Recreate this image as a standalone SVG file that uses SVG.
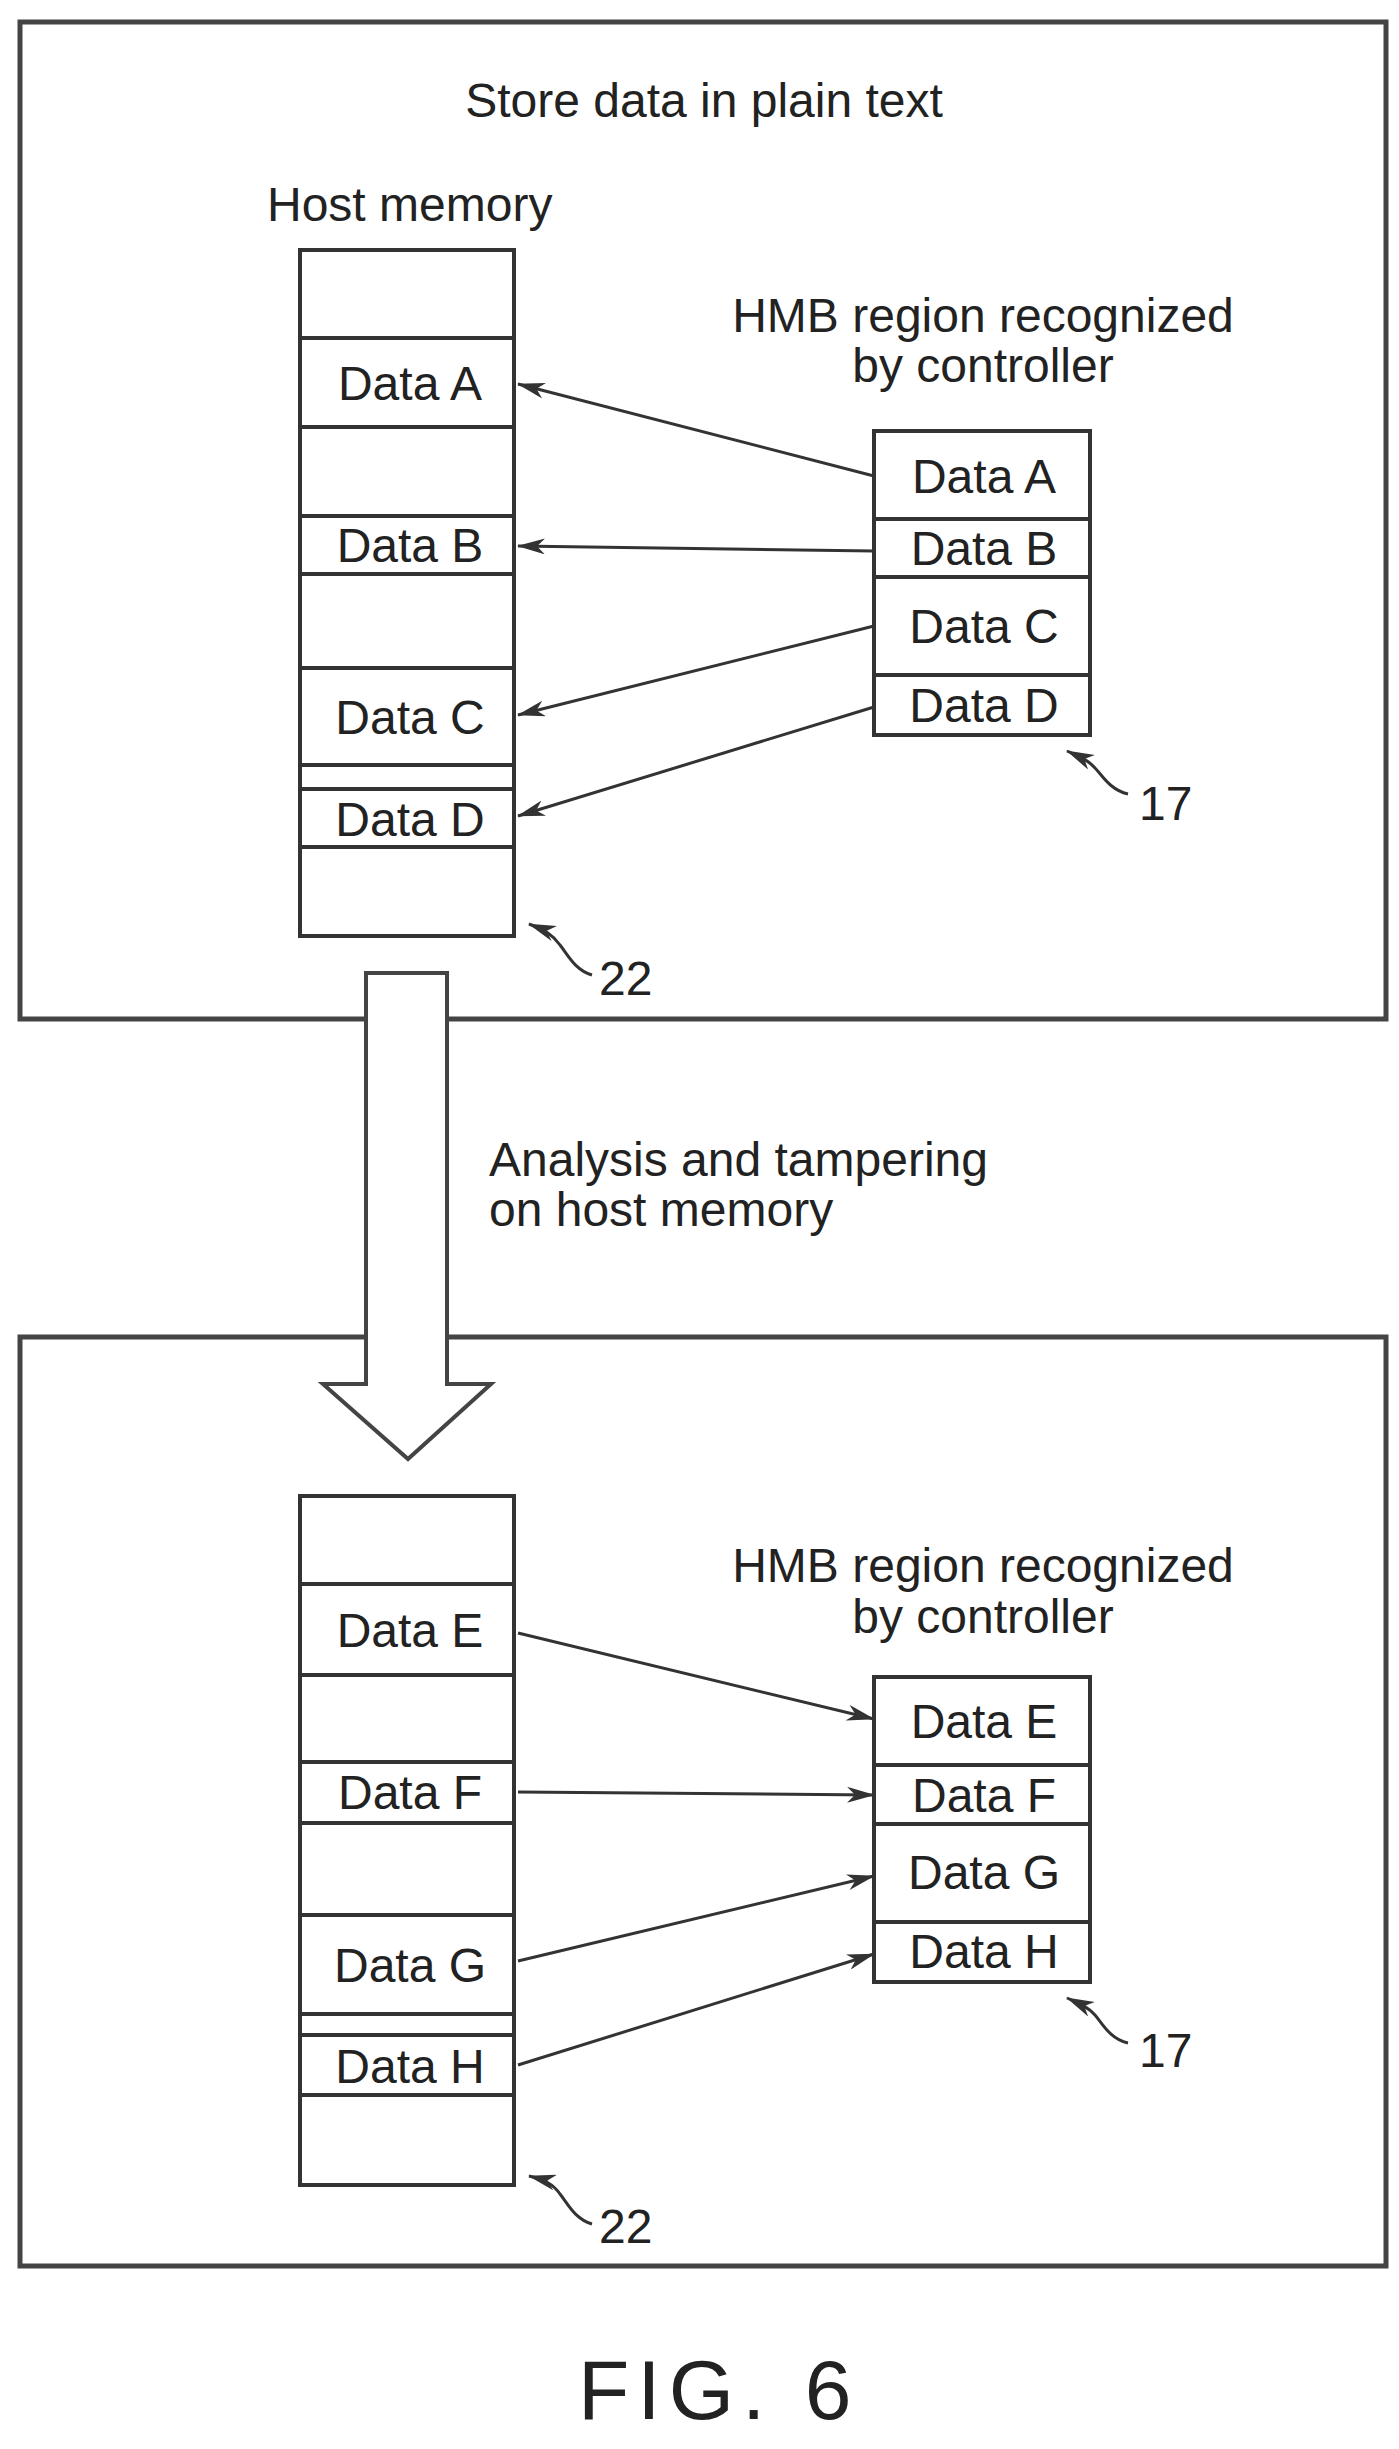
<svg xmlns="http://www.w3.org/2000/svg" width="1399" height="2449" viewBox="0 0 1399 2449">
<style>
text{font-family:"Liberation Sans",Arial,sans-serif;fill:#222;font-size:48px}
.c{text-anchor:middle}
.box{fill:#fff;stroke:#333;stroke-width:4}
.frame{fill:none;stroke:#444;stroke-width:5}
.ln{stroke:#333;stroke-width:3;fill:none}
</style>
<defs>
<marker id="ah" viewBox="0 0 28 16" refX="27" refY="8" markerWidth="28" markerHeight="16" markerUnits="userSpaceOnUse" orient="auto">
<path d="M0,0 L28,8 L0,16 L8,8 Z" fill="#333"/>
</marker>
</defs>
<rect class="frame" x="20" y="22" width="1366" height="997"/>
<rect class="frame" x="20" y="1337" width="1366" height="929"/>
<g id="bigarrow">
<path d="M366,973 L447,973 L447,1384 L491,1384 L408,1459 L323,1384 L366,1384 Z" fill="#fff" stroke="#444" stroke-width="4"/>
</g>
<text class="c" x="704" y="117">Store data in plain text</text>
<text x="267" y="221">Host memory</text>
<text class="c" x="983" y="332">HMB region recognized</text>
<text class="c" x="983" y="382">by controller</text>
<text x="489" y="1176">Analysis and tampering</text>
<text x="489" y="1226">on host memory</text>
<text class="c" x="983" y="1582">HMB region recognized</text>
<text class="c" x="983" y="1633">by controller</text>
<g id="host1">
<rect class="box" x="300" y="250" width="214" height="88"/>
<rect class="box" x="300" y="338" width="214" height="89"/><text class="c" x="410" y="400">Data A</text>
<rect class="box" x="300" y="427" width="214" height="89"/>
<rect class="box" x="300" y="516" width="214" height="58"/><text class="c" x="410" y="562">Data B</text>
<rect class="box" x="300" y="574" width="214" height="94"/>
<rect class="box" x="300" y="668" width="214" height="97"/><text class="c" x="410" y="734">Data C</text>
<rect class="box" x="300" y="765" width="214" height="24"/>
<rect class="box" x="300" y="789" width="214" height="58"/><text class="c" x="410" y="836">Data D</text>
<rect class="box" x="300" y="847" width="214" height="89"/>
</g>
<g id="hmb1">
<rect class="box" x="874" y="431" width="216" height="88"/><text class="c" x="984" y="493">Data A</text>
<rect class="box" x="874" y="519" width="216" height="58"/><text class="c" x="984" y="565">Data B</text>
<rect class="box" x="874" y="577" width="216" height="98"/><text class="c" x="984" y="643">Data C</text>
<rect class="box" x="874" y="675" width="216" height="60"/><text class="c" x="984" y="722">Data D</text>
</g>
<g id="host2">
<rect class="box" x="300" y="1496" width="214" height="88"/>
<rect class="box" x="300" y="1584" width="214" height="91"/><text class="c" x="410" y="1647">Data E</text>
<rect class="box" x="300" y="1675" width="214" height="87"/>
<rect class="box" x="300" y="1762" width="214" height="61"/><text class="c" x="410" y="1809">Data F</text>
<rect class="box" x="300" y="1823" width="214" height="92"/>
<rect class="box" x="300" y="1915" width="214" height="99"/><text class="c" x="410" y="1982">Data G</text>
<rect class="box" x="300" y="2014" width="214" height="21"/>
<rect class="box" x="300" y="2035" width="214" height="60"/><text class="c" x="410" y="2083">Data H</text>
<rect class="box" x="300" y="2095" width="214" height="90"/>
</g>
<g id="hmb2">
<rect class="box" x="874" y="1677" width="216" height="88"/><text class="c" x="984" y="1738">Data E</text>
<rect class="box" x="874" y="1765" width="216" height="59"/><text class="c" x="984" y="1812">Data F</text>
<rect class="box" x="874" y="1824" width="216" height="98"/><text class="c" x="984" y="1889">Data G</text>
<rect class="box" x="874" y="1922" width="216" height="60"/><text class="c" x="984" y="1968">Data H</text>
</g>
<g id="connectors">
<line class="ln" x1="874" y1="476" x2="518" y2="384" marker-end="url(#ah)"/>
<line class="ln" x1="874" y1="551" x2="518" y2="546" marker-end="url(#ah)"/>
<line class="ln" x1="874" y1="626" x2="518" y2="715" marker-end="url(#ah)"/>
<line class="ln" x1="874" y1="707" x2="518" y2="816" marker-end="url(#ah)"/>
<line class="ln" x1="518" y1="1633" x2="874" y2="1719" marker-end="url(#ah)"/>
<line class="ln" x1="518" y1="1792" x2="874" y2="1795" marker-end="url(#ah)"/>
<line class="ln" x1="518" y1="1961" x2="874" y2="1876" marker-end="url(#ah)"/>
<line class="ln" x1="518" y1="2065" x2="874" y2="1954" marker-end="url(#ah)"/>
<path class="ln" d="M1128,794 C1110,790 1102,775 1095,768 C1088,760 1080,757 1067,751" marker-end="url(#ah)"/>
<path class="ln" d="M592,975 C575,970 568,955 560,945 C553,935 545,930 529,924" marker-end="url(#ah)"/>
<path class="ln" d="M1128,2043 C1110,2039 1102,2023 1095,2015 C1088,2007 1080,2004 1067,1998" marker-end="url(#ah)"/>
<path class="ln" d="M592,2224 C575,2219 568,2204 560,2194 C553,2184 545,2180 529,2176" marker-end="url(#ah)"/>
</g>
<text x="1139" y="820">17</text>
<text x="599" y="995">22</text>
<text x="1139" y="2067">17</text>
<text x="599" y="2243">22</text>
<text x="578" y="2419" style="font-size:84px;letter-spacing:8px">FIG. 6</text>
</svg>
